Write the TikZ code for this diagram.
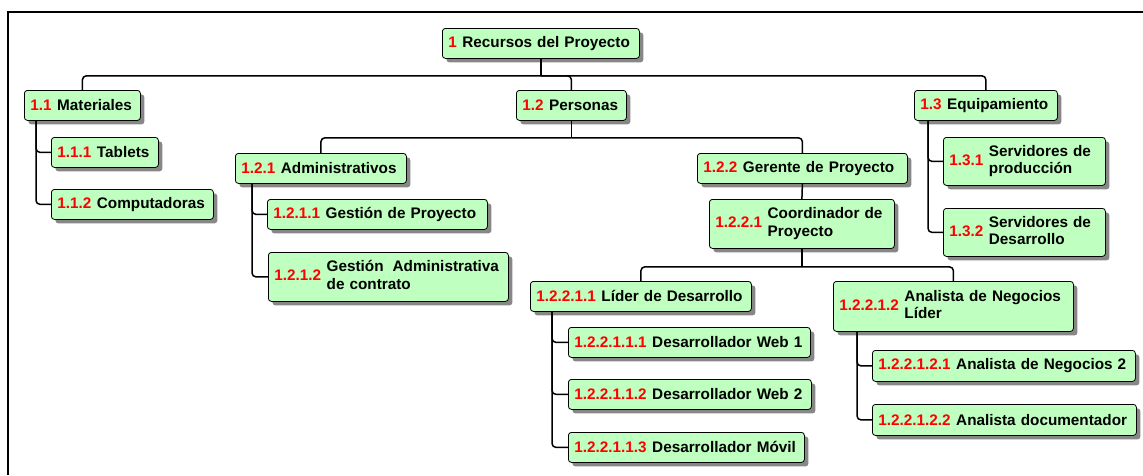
\documentclass[tikz,border=0pt]{standalone}
\usepackage{fontspec}
\setmainfont{Liberation Sans}
\usepackage{xcolor}
\usepackage{tikz}
\usetikzlibrary{shadows}
\definecolor{wbsgreen}{HTML}{BFFFBF}
\definecolor{wbsred}{HTML}{FF0000}
\definecolor{wbsshade}{HTML}{7A7A7A}
\newcommand{\wbsitem}[2]{\mbox{\textcolor{wbsred}{#1}\hspace{5.5pt}#2}}
\newcommand{\wbstwo}[2]{\begin{tabular}[c]{@{}l@{}}#1\\#2\end{tabular}}

\begin{document}
\begin{tikzpicture}[
  x=1pt, y=-1pt,
  wbs/.style={draw=black,line width=0.8pt,rounded corners=3pt,fill=wbsgreen,
              font=\fontsize{15.3}{17.3}\selectfont\bfseries,anchor=north west,
              inner xsep=6pt,inner ysep=0pt,align=left,
              drop shadow={shadow xshift=4pt,shadow yshift=-4pt,fill=wbsshade,opacity=0.9}},
  link/.style={line width=1.5pt,rounded corners=4pt}
]
  \useasboundingbox (0,0) rectangle (1143,475);
  \draw[line width=1.5pt] (8,475) -- (8,12) -- (1143,12);

  % nodes
  \node[wbs,text width=185pt,minimum height=30pt] (root) at (442,28) {\wbsitem{1}{Recursos del Proyecto}};
  \node[wbs,text width=104pt,minimum height=30pt] (m11) at (24,90) {\wbsitem{1.1}{Materiales}};
  \node[wbs,text width=98pt,minimum height=30pt] (m12) at (516,90) {\wbsitem{1.2}{Personas}};
  \node[wbs,text width=131pt,minimum height=30pt] (m13) at (914,90) {\wbsitem{1.3}{Equipamiento}};

  \node[wbs,text width=95pt,minimum height=30pt] (m111) at (51,137) {\wbsitem{1.1.1}{Tablets}};
  \node[wbs,text width=150pt,minimum height=30pt] (m112) at (51,189) {\wbsitem{1.1.2}{Computadoras}};

  \node[wbs,text width=159pt,minimum height=30pt] (m121) at (235,153) {\wbsitem{1.2.1}{Administrativos}};
  \node[wbs,text width=198pt,minimum height=30pt] (m122) at (697,153) {\wbsitem{1.2.2}{Gerente de Proyecto}};
  \node[wbs,text width=208pt,minimum height=30pt] (m1211) at (267,199) {\wbsitem{1.2.1.1}{Gestión de Proyecto}};
  \node[wbs,text width=228pt,minimum height=49pt] (m1212) at (268,252) {\wbsitem{1.2.1.2}{\wbstwo{Gestión\hspace{9pt}Administrativa}{de contrato}}};
  \node[wbs,text width=173pt,minimum height=49pt] (m1221) at (709,199) {\wbsitem{1.2.2.1}{\wbstwo{Coordinador de}{Proyecto}}};

  \node[wbs,text width=209pt,minimum height=30pt] (m12211) at (530,281) {\wbsitem{1.2.2.1.1}{Líder de Desarrollo}};
  \node[wbs,text width=228pt,minimum height=50pt] (m12212) at (833,281) {\wbsitem{1.2.2.1.2}{\wbstwo{Analista de Negocios}{Líder}}};

  \node[wbs,text width=230pt,minimum height=30pt] (m122111) at (568,327) {\wbsitem{1.2.2.1.1.1}{Desarrollador Web 1}};
  \node[wbs,text width=231pt,minimum height=30pt] (m122112) at (568,379) {\wbsitem{1.2.2.1.1.2}{Desarrollador Web 2}};
  \node[wbs,text width=224pt,minimum height=30pt] (m122113) at (568,432) {\wbsitem{1.2.2.1.1.3}{Desarrollador Móvil}};

  \node[wbs,text width=251pt,minimum height=31pt] (m122121) at (872,350) {\wbsitem{1.2.2.1.2.1}{Analista de Negocios 2}};
  \node[wbs,text width=252pt,minimum height=31pt] (m122122) at (872,404) {\wbsitem{1.2.2.1.2.2}{Analista documentador}};

  \node[wbs,text width=150pt,minimum height=48pt] (m131) at (943,137) {\wbsitem{1.3.1}{\wbstwo{Servidores de}{producción}}};
  \node[wbs,text width=150pt,minimum height=48pt] (m132) at (943,208) {\wbsitem{1.3.2}{\wbstwo{Servidores de}{Desarrollo}}};

  % connectors
  \draw[link] (root.south) -- ++(0,17);
  \foreach \c in {m11,m12,m13}
    \draw[link] (root.south) ++(0,17) -| (\c.north);
  \foreach \c in {m111,m112}
    \draw[link] ([xshift=12pt]m11.south west) |- (\c.west);

  \draw[link] (m12.south) -- ++(0,17);
  \foreach \c in {m121,m122}
    \draw[link] (m12.south) ++(0,17) -| (\c.north);
  \foreach \c in {m1211,m1212}
    \draw[link] ([xshift=17pt]m121.south west) |- (\c.west);
  \draw[link] (m122.south) -- (m1221.north);

  \draw[link] (m1221.south) -- ++(0,18);
  \foreach \c in {m12211,m12212}
    \draw[link] (m1221.south) ++(0,18) -| (\c.north);
  \foreach \c in {m122111,m122112,m122113}
    \draw[link] ([xshift=22pt]m12211.south west) |- (\c.west);
  \foreach \c in {m122121,m122122}
    \draw[link] ([xshift=24pt]m12212.south west) |- (\c.west);

  \foreach \c in {m131,m132}
    \draw[link] ([xshift=14pt]m13.south west) |- (\c.west);
\end{tikzpicture}
\end{document}
